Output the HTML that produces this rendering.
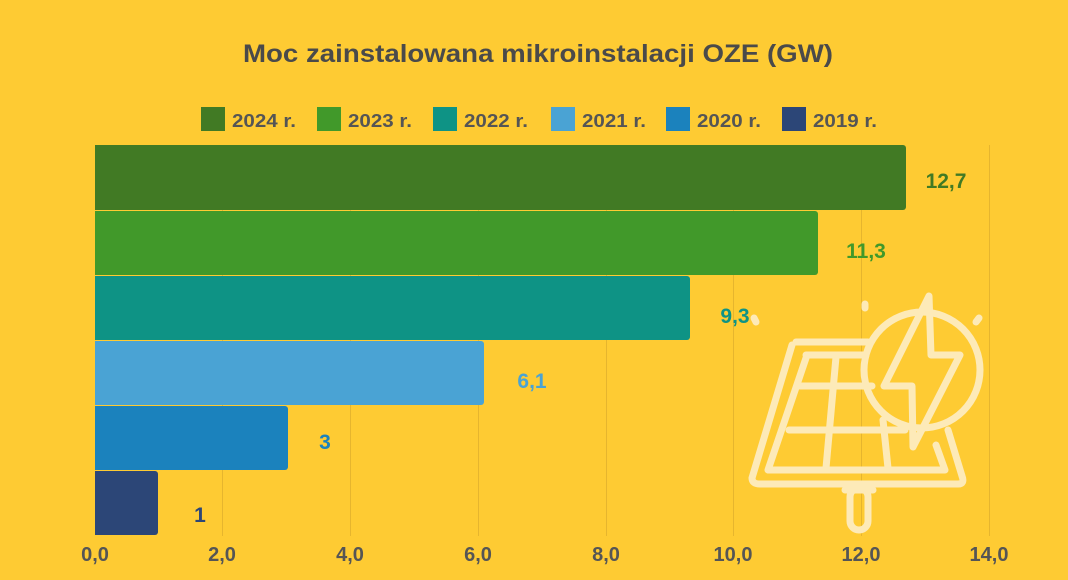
<!DOCTYPE html>
<html><head><meta charset="utf-8"><style>
body{margin:0;background:#fecb33;}
svg{display:block;font-family:"Liberation Sans",sans-serif;font-weight:bold;}
</style></head><body>
<svg width="1068" height="580" viewBox="0 0 1068 580">
<rect width="1068" height="580" fill="#fecb33"/>
<text x="243" y="62" font-size="25" fill="#4a4a4a" textLength="590" lengthAdjust="spacingAndGlyphs">Moc zainstalowana mikroinstalacji OZE (GW)</text>
<g font-size="18" fill="#555">
<rect x="201" y="107" width="24" height="24" fill="#417a24"/><text x="232" y="127" textLength="64" lengthAdjust="spacingAndGlyphs">2024 r.</text>
<rect x="317" y="107" width="24" height="24" fill="#41992a"/><text x="348" y="127" textLength="64" lengthAdjust="spacingAndGlyphs">2023 r.</text>
<rect x="433" y="107" width="24" height="24" fill="#0e9385"/><text x="464" y="127" textLength="64" lengthAdjust="spacingAndGlyphs">2022 r.</text>
<rect x="551" y="107" width="24" height="24" fill="#4aa3d4"/><text x="582" y="127" textLength="64" lengthAdjust="spacingAndGlyphs">2021 r.</text>
<rect x="666" y="107" width="24" height="24" fill="#1b82bd"/><text x="697" y="127" textLength="64" lengthAdjust="spacingAndGlyphs">2020 r.</text>
<rect x="782" y="107" width="24" height="24" fill="#2c4677"/><text x="813" y="127" textLength="64" lengthAdjust="spacingAndGlyphs">2019 r.</text>
</g>
<g stroke="#e6b52e" stroke-width="1">
<line x1="222.5" y1="145" x2="222.5" y2="536"/><line x1="350.5" y1="145" x2="350.5" y2="536"/>
<line x1="478.5" y1="145" x2="478.5" y2="536"/><line x1="606.5" y1="145" x2="606.5" y2="536"/>
<line x1="733.5" y1="145" x2="733.5" y2="536"/><line x1="861.5" y1="145" x2="861.5" y2="536"/>
<line x1="989.5" y1="145" x2="989.5" y2="536"/>
</g>
<g>
<rect x="95" y="145" width="811" height="65" rx="3" fill="#417a24"/><rect x="95" y="145" width="10" height="65" fill="#417a24"/>
<rect x="95" y="211" width="723" height="64" rx="3" fill="#41992a"/><rect x="95" y="211" width="10" height="64" fill="#41992a"/>
<rect x="95" y="276" width="595" height="64" rx="3" fill="#0e9385"/><rect x="95" y="276" width="10" height="64" fill="#0e9385"/>
<rect x="95" y="341" width="389" height="64" rx="3" fill="#4aa3d4"/><rect x="95" y="341" width="10" height="64" fill="#4aa3d4"/>
<rect x="95" y="406" width="193" height="64" rx="3" fill="#1b82bd"/><rect x="95" y="406" width="10" height="64" fill="#1b82bd"/>
<rect x="95" y="471" width="63" height="64" rx="3" fill="#2c4677"/><rect x="95" y="471" width="10" height="64" fill="#2c4677"/>
</g>
<g font-size="21" text-anchor="middle">
<text x="946" y="188" fill="#417a24">12,7</text>
<text x="866" y="258" fill="#41992a">11,3</text>
<text x="735" y="323" fill="#0e9385">9,3</text>
<text x="532" y="388" fill="#4aa3d4">6,1</text>
<text x="325" y="449" fill="#1b82bd">3</text>
<text x="200" y="522" fill="#2c4677">1</text>
</g>
<g font-size="20" fill="#555" text-anchor="middle">
<text x="95" y="561">0,0</text><text x="222" y="561">2,0</text><text x="350" y="561">4,0</text>
<text x="478" y="561">6,0</text><text x="606" y="561">8,0</text><text x="733" y="561">10,0</text>
<text x="861" y="561">12,0</text><text x="989" y="561">14,0</text>
</g>
<g fill="none" stroke="#fdeab8" stroke-width="7" stroke-linecap="round" stroke-linejoin="round">
<path d="M796 342 L868 342 M752 478 L792 345 M752 478 Q752 484 760 484 L958 484 Q965 484 962 476 L948 430"/>
<path d="M806 355 L866 355 M768 470 L806 358 M768 470 L945 470 L936 445"/>
<line x1="800" y1="386" x2="872" y2="386"/>
<line x1="789" y1="430" x2="905" y2="430"/>
<line x1="836" y1="357" x2="826" y2="468"/>
<line x1="883" y1="420" x2="888" y2="468"/>
<rect x="850" y="488" width="18" height="42" rx="9"/>
<line x1="845" y1="490" x2="873" y2="490"/>
<circle cx="922" cy="370" r="58"/>
<path d="M929 296 L884 386 L912 386 L913 447 L960 355 L931 355 Z"/>
<line x1="754" y1="318" x2="756" y2="322"/>
<line x1="865" y1="304" x2="865" y2="308"/>
<line x1="976" y1="322" x2="979" y2="318"/>
</g>
</svg>
</body></html>
